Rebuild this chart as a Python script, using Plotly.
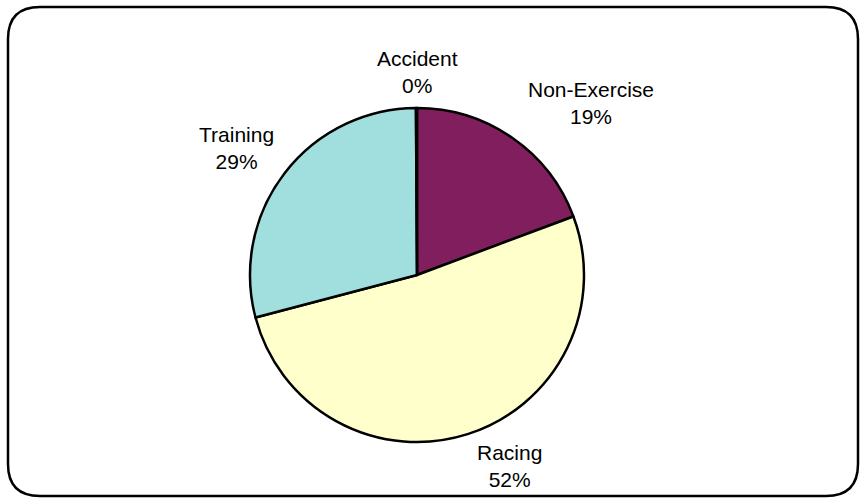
import plotly.graph_objects as go

W, H = 862, 498

labels = ["Non-Exercise", "Racing", "Training", "Accident"]
values = [19.3, 51.6, 29.0, 0.1]
colors = ["#811F5E", "#FFFFCC", "#A1DFDF", "#D0D0D0"]

# label placement (pixel centre of each two-line label) - layout only
label_pos = {
    "Non-Exercise": (591, 103),
    "Racing": (509, 466),
    "Training": (236, 148),
    "Accident": (417, 72),
}

FONT = "Liberation Sans, Arial, Helvetica, sans-serif"
FS = 21

fig = go.Figure(go.Pie(
    labels=labels,
    values=values,
    sort=False,
    direction="clockwise",
    rotation=0,
    marker=dict(colors=colors, line=dict(color="black", width=2.5)),
    textinfo="none",
    showlegend=False,
    hoverinfo="label+percent",
    domain=dict(x=[250 / W, 584 / W], y=[1 - 442 / H, 1 - 108 / H]),
))

total = sum(values)
for lab, val in zip(labels, values):
    cx, cy = label_pos[lab]
    pct = f"{round(100 * val / total):.0f}%"
    fig.add_annotation(
        x=cx / W, y=1 - cy / H, xref="paper", yref="paper",
        text=f"{lab}<br>{pct}", showarrow=False,
        xanchor="center", yanchor="middle", align="center",
        font=dict(family=FONT, size=FS, color="black"),
    )

# rounded border
def rounded_rect(x0, y0, x1, y1, r):
    px = lambda x: x / W
    py = lambda y: 1 - y / H
    pts = [
        f"M {px(x0 + r)},{py(y0)}",
        f"L {px(x1 - r)},{py(y0)}",
        f"Q {px(x1)},{py(y0)} {px(x1)},{py(y0 + r)}",
        f"L {px(x1)},{py(y1 - r)}",
        f"Q {px(x1)},{py(y1)} {px(x1 - r)},{py(y1)}",
        f"L {px(x0 + r)},{py(y1)}",
        f"Q {px(x0)},{py(y1)} {px(x0)},{py(y1 - r)}",
        f"L {px(x0)},{py(y0 + r)}",
        f"Q {px(x0)},{py(y0)} {px(x0 + r)},{py(y0)}",
        "Z",
    ]
    return " ".join(pts)

fig.add_shape(type="path", xref="paper", yref="paper",
              path=rounded_rect(8, 7, 858, 496, 32),
              line=dict(color="black", width=2.5))

fig.update_layout(
    width=W, height=H,
    margin=dict(l=0, r=0, t=0, b=0),
    paper_bgcolor="white",
    plot_bgcolor="white",
    font=dict(family=FONT),
)

fig.write_html("out.html", config={"displayModeBar": False})
